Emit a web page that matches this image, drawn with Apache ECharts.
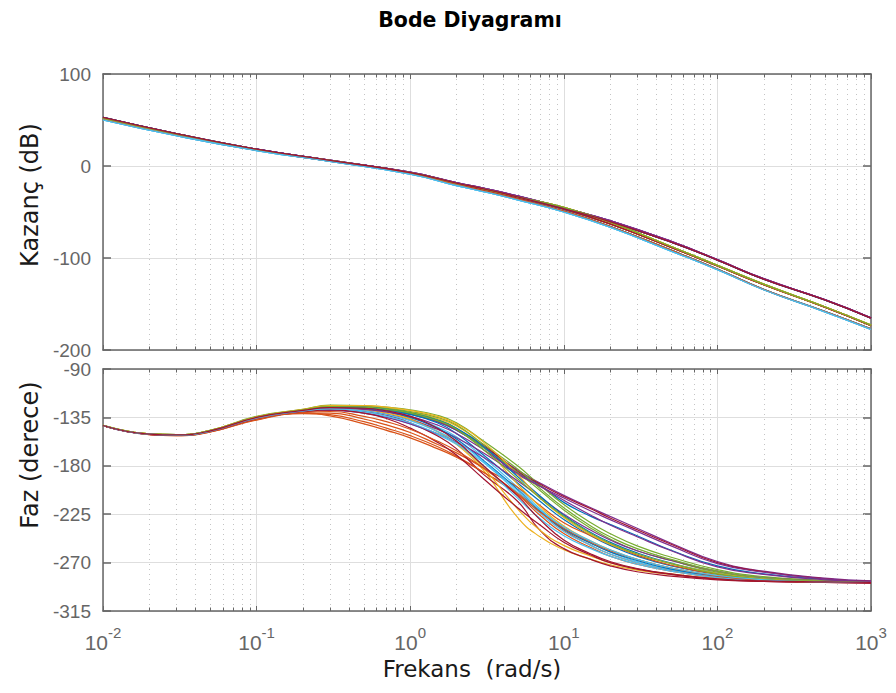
<!DOCTYPE html>
<html>
<head>
<meta charset="utf-8">
<script src="https://cdn.jsdelivr.net/npm/echarts@6/dist/echarts.min.js"></script>
<style>html,body{margin:0;padding:0;background:#fff;}#c{width:896px;height:693px;}</style>
</head>
<body>
<div id="c"></div>
<script>
// ---------- data ----------
const freqPhase = [0.01,0.02,0.03,0.05,0.1,0.2,0.3,0.5,0.7,1,1.5,2,3,5,7,10,15,20,30,50,100,200,500,1000];
const freqMag = [0.01,0.03,0.1,0.3,1,2,3,5,10,20,50,100,200,500,1000];
const minorFreqs = [0.02,0.03,0.04,0.05,0.06,0.07,0.08,0.09,0.2,0.3,0.4,0.5,0.6,0.7,0.8,0.9,2,3,4,5,6,7,8,9,20,30,40,50,60,70,80,90,200,300,400,500,600,700,800,900];
const magTicks = [-200,-100,0,100];
const phaseTicks = [-315,-270,-225,-180,-135,-90];
const colors = ['#0072BD','#D95319','#EDB120','#7E2F8E','#77AC30','#4DBEEE','#A2142F'];

// magnitude profiles (dB) at freqMag
const magTop  = [52.5,35.0,18.2,6.3,-6.8,-18.0,-24.0,-32.5,-45.5,-59.5,-82.0,-101.8,-122.5,-145.3,-165.0];
const magTop2 = [52.8,35.2,18.3,6.2,-7.2,-18.5,-24.8,-33.5,-46.5,-60.5,-82.8,-102.2,-122.9,-145.6,-165.4];
const magMid  = [52.0,34.6,17.8,6.0,-7.2,-18.8,-25.0,-33.5,-45.0,-61.0,-87.5,-108.0,-128.5,-153.0,-173.0];
const magMid2 = [52.3,34.8,17.9,6.0,-7.6,-19.5,-26.0,-34.5,-47.0,-63.0,-88.5,-108.6,-129.0,-153.5,-173.5];
const magBot  = [50.2,33.0,16.8,5.0,-8.8,-21.2,-27.8,-36.8,-50.0,-66.5,-92.5,-112.7,-134.5,-158.5,-177.5];
const magBot2 = [50.8,33.5,17.2,5.3,-8.3,-20.5,-27.0,-36.0,-49.0,-65.5,-91.5,-112.0,-134.0,-158.0,-177.0];

// phase curves (deg) at freqPhase
const ph00 = [-142.5,-150.5,-151.3,-147.5,-135.5,-129.0,-126.5,-127.0,-129.0,-132.5,-139.0,-147.0,-163.0,-186.0,-198.0,-214.0,-227.0,-234.5,-245.0,-258.5,-273.0,-280.5,-285.5,-287.5];
const ph01 = [-142.8,-151.0,-152.0,-148.5,-137.5,-131.5,-133.5,-141.0,-147.0,-154.0,-164.0,-172.0,-186.0,-205.0,-222.0,-240.0,-254.0,-262.0,-270.0,-277.0,-283.0,-286.5,-288.0,-288.5];
const ph02 = [-142.5,-150.5,-151.3,-147.5,-135.0,-128.5,-126.0,-127.0,-130.0,-136.0,-148.0,-160.0,-184.0,-228.0,-246.0,-258.0,-267.0,-272.0,-277.0,-281.0,-285.0,-287.0,-288.0,-288.5];
const ph03 = [-142.5,-150.5,-151.2,-147.3,-135.0,-128.0,-125.5,-126.0,-128.0,-131.5,-139.0,-147.0,-162.0,-184.0,-196.0,-207.5,-219.0,-227.0,-238.0,-252.0,-269.0,-278.0,-284.5,-287.0];
const ph04 = [-142.4,-150.3,-151.0,-147.0,-134.0,-127.5,-123.5,-124.0,-125.5,-128.0,-133.0,-140.0,-157.0,-180.0,-198.0,-216.0,-233.0,-243.0,-254.5,-265.0,-276.5,-283.0,-286.5,-288.0];
const ph05 = [-142.5,-150.5,-151.3,-147.5,-135.5,-129.0,-126.0,-126.5,-129.0,-134.0,-144.0,-153.0,-172.0,-200.0,-220.0,-238.0,-252.0,-260.0,-269.0,-276.0,-282.0,-286.0,-287.5,-288.5];
const ph06 = [-142.5,-150.5,-151.2,-147.3,-135.0,-128.0,-125.0,-125.5,-127.5,-131.0,-138.0,-146.0,-161.0,-185.0,-197.0,-208.5,-220.0,-228.5,-239.5,-253.0,-270.0,-278.5,-285.0,-287.5];
const ph07 = [-142.5,-150.4,-151.1,-147.2,-135.0,-128.5,-125.5,-126.0,-128.0,-132.0,-140.0,-150.0,-170.0,-196.0,-213.0,-230.0,-245.0,-254.0,-264.0,-273.0,-281.0,-285.5,-287.5,-288.5];
const ph08 = [-142.7,-150.8,-151.7,-148.2,-136.5,-131.0,-131.0,-136.5,-142.0,-149.0,-160.0,-168.0,-182.0,-200.0,-217.0,-233.0,-245.0,-253.0,-263.0,-272.5,-281.0,-285.5,-287.5,-288.5];
const ph09 = [-142.4,-150.3,-151.0,-147.0,-134.5,-128.0,-124.5,-124.5,-126.5,-130.0,-136.0,-143.0,-162.0,-197.0,-218.0,-236.0,-250.0,-258.0,-267.0,-275.0,-282.0,-286.0,-288.0,-288.5];
const ph10 = [-142.6,-150.6,-151.4,-147.7,-135.5,-129.0,-127.0,-129.0,-132.0,-137.0,-146.0,-154.0,-168.0,-188.0,-199.0,-210.0,-222.0,-230.0,-241.0,-254.5,-271.0,-279.0,-285.0,-287.5];
const ph11 = [-142.4,-150.3,-151.0,-147.0,-134.5,-128.0,-124.5,-125.0,-127.0,-130.5,-137.0,-145.0,-163.0,-186.0,-203.0,-221.0,-238.0,-248.0,-259.0,-268.0,-279.0,-284.5,-287.0,-288.5];
const ph12 = [-142.6,-150.7,-151.5,-147.9,-136.0,-130.0,-128.0,-131.0,-135.0,-141.0,-151.0,-160.0,-177.0,-205.0,-224.0,-241.0,-254.0,-262.0,-270.0,-277.0,-283.0,-286.5,-288.0,-288.5];
const ph13 = [-142.5,-150.5,-151.3,-147.5,-135.0,-129.0,-127.0,-129.5,-133.0,-140.0,-152.0,-164.0,-188.0,-213.0,-240.0,-257.0,-267.0,-273.0,-278.5,-282.5,-286.0,-287.5,-288.5,-289.0];
const ph14 = [-142.5,-150.5,-151.2,-147.4,-135.0,-128.5,-126.0,-127.0,-130.0,-135.0,-145.0,-155.0,-175.0,-202.0,-222.0,-239.0,-252.0,-260.0,-268.0,-276.0,-282.5,-286.0,-288.0,-288.5];
const ph15 = [-142.8,-151.0,-152.0,-148.6,-137.0,-131.0,-132.5,-139.0,-145.0,-152.0,-162.0,-171.0,-186.0,-207.0,-226.0,-243.0,-256.0,-264.0,-271.5,-278.0,-284.0,-287.0,-288.0,-288.5];
const ph16 = [-142.5,-150.5,-151.3,-147.6,-135.5,-129.0,-126.5,-128.0,-131.0,-137.0,-148.0,-159.0,-182.0,-220.0,-240.0,-254.0,-264.0,-270.0,-276.0,-280.5,-285.0,-287.0,-288.0,-288.5];
const ph17 = [-142.6,-150.7,-151.5,-147.9,-136.0,-130.0,-128.5,-131.0,-135.0,-141.0,-150.0,-158.0,-172.0,-194.0,-209.0,-225.0,-240.0,-249.0,-259.0,-268.0,-278.0,-284.0,-287.0,-288.5];
const ph18 = [-142.4,-150.3,-151.0,-147.0,-134.5,-128.0,-124.0,-124.5,-126.5,-129.5,-135.0,-142.0,-160.0,-183.0,-201.0,-219.0,-236.0,-246.0,-257.0,-267.0,-278.0,-284.0,-287.0,-288.5];
const ph19 = [-142.5,-150.5,-151.4,-147.7,-135.5,-129.5,-127.5,-130.0,-134.0,-140.0,-150.0,-159.0,-180.0,-210.0,-229.0,-245.0,-257.0,-264.0,-271.5,-278.0,-284.0,-287.0,-288.0,-288.5];
const ph20 = [-142.6,-150.7,-151.6,-148.0,-136.0,-130.0,-128.0,-131.0,-136.0,-145.0,-158.0,-170.0,-192.0,-219.0,-235.0,-251.0,-263.0,-270.0,-276.0,-281.0,-285.5,-287.5,-288.5,-289.0];
const ph21 = [-142.5,-150.5,-151.3,-147.5,-135.0,-128.5,-125.5,-125.5,-127.5,-131.0,-137.5,-145.0,-162.0,-190.0,-208.0,-226.0,-242.0,-251.0,-261.0,-270.5,-280.0,-285.0,-287.5,-288.5];
const ph22 = [-142.6,-150.7,-151.6,-148.0,-136.0,-130.5,-129.5,-134.0,-139.0,-146.0,-157.0,-166.0,-182.0,-206.0,-223.0,-238.0,-251.0,-259.0,-267.0,-275.0,-282.5,-286.5,-288.0,-288.5];
const ph23 = [-142.4,-150.3,-151.0,-147.0,-134.5,-127.5,-124.0,-124.0,-125.5,-128.5,-134.0,-141.0,-158.0,-188.0,-210.0,-228.0,-244.0,-253.0,-262.0,-271.0,-280.0,-285.0,-287.5,-288.5];
const ph24 = [-142.5,-150.5,-151.3,-147.6,-135.5,-129.0,-126.5,-127.5,-130.0,-134.0,-142.0,-150.0,-165.0,-187.0,-199.0,-212.0,-226.0,-235.0,-246.0,-259.0,-274.0,-281.0,-286.0,-288.0];
const ph25 = [-142.5,-150.5,-151.2,-147.3,-135.0,-128.0,-125.0,-125.5,-127.5,-131.0,-138.0,-146.0,-165.0,-192.0,-210.0,-227.0,-243.0,-252.0,-262.0,-271.0,-280.5,-285.5,-287.5,-288.5];
const ph26 = [-142.5,-150.6,-151.4,-147.8,-135.5,-129.0,-127.0,-129.0,-132.5,-138.0,-148.0,-157.0,-176.0,-203.0,-221.0,-237.0,-250.0,-258.0,-267.0,-275.0,-282.0,-286.0,-288.0,-288.5];
const ph27 = [-142.5,-150.5,-151.3,-147.5,-135.0,-128.5,-126.0,-126.5,-129.0,-134.0,-145.0,-157.0,-180.0,-208.0,-230.0,-249.0,-262.0,-269.0,-275.5,-280.5,-285.0,-287.0,-288.0,-288.5];

const phaseCurves = [ph00,ph01,ph02,ph03,ph04,ph05,ph06,ph07,ph08,ph09,ph10,ph11,ph12,ph13,ph14,ph15,ph16,ph17,ph18,ph19,ph20,ph21,ph22,ph23,ph24,ph25,ph26,ph27];
const magCurves = [magTop2,magMid2,magMid,magTop,magMid,magBot,magTop2,magBot2,magMid2,magMid,magTop,magMid2,magBot,magTop2,magBot2,magMid2,magMid,magTop,magMid,magBot,magMid2,magTop2,magBot2,magMid,magTop,magMid,magBot,magTop2];

// ---------- chart ----------
const FONT = 'Liberation Sans';
const TFONT = 'DejaVu Sans';
const AX = '#666666';
const chart = echarts.init(document.getElementById('c'), null, {renderer: 'svg'});

function xAxisDef(grid, pos, labels) {
  return {
    type: 'log', logBase: 10, min: 0.01, max: 1000, gridIndex: grid, position: pos,
    splitNumber: 5,
    axisLine: {show: true, onZero: false, lineStyle: {color: AX, width: 1.5}},
    axisTick: {show: true, inside: true, length: 5, lineStyle: {color: AX, width: 1}},
    splitLine: {show: pos === 'bottom', lineStyle: {color: '#dedede', width: 1}},
    minorTick: {show: false}, minorSplitLine: {show: false},
    axisLabel: labels ? {
      show: true, margin: 14, fontFamily: FONT, color: AX,
      formatter: v => '{b|10}{s|' + Math.round(Math.log10(v)) + '}',
      rich: {
        b: {fontSize: 21, fontFamily: FONT, color: AX, verticalAlign: 'bottom', lineHeight: 28},
        s: {fontSize: 15, fontFamily: FONT, color: AX, verticalAlign: 'top', lineHeight: 28}
      }
    } : {show: false}
  };
}
function yAxisDef(grid, pos, lo, hi, step, labels) {
  return {
    type: 'value', gridIndex: grid, position: pos, min: lo, max: hi, interval: step,
    axisLine: {show: true, onZero: false, lineStyle: {color: AX, width: 1.5}},
    axisTick: {show: true, inside: true, length: 8, lineStyle: {color: AX, width: 1.5}},
    splitLine: {show: pos === 'left', lineStyle: {color: '#dedede', width: 1}},
    axisLabel: labels ? {show: true, margin: 12, fontFamily: FONT, fontSize: 19, color: AX} : {show: false}
  };
}

function minorSeries(xi, yi, yv) {
  return {
    type: 'custom', xAxisIndex: xi, yAxisIndex: yi, silent: true, z: 1,
    data: minorFreqs.map(f => [f, yv]),
    encode: {x: 0, y: 1},
    renderItem: function (params, api) {
      const p = api.coord([api.value(0), api.value(1)]);
      const cs = params.coordSys;
      const x = Math.round(p[0]) + 0.5;
      return {type: 'group', children: [
        {type: 'line', shape: {x1: x, y1: cs.y, x2: x, y2: cs.y + cs.height},
         style: {stroke: '#c4c4c4', lineWidth: 1, lineDash: [1, 4]}},
        {type: 'line', shape: {x1: x, y1: cs.y, x2: x, y2: cs.y + 3.5},
         style: {stroke: AX, lineWidth: 1}},
        {type: 'line', shape: {x1: x, y1: cs.y + cs.height, x2: x, y2: cs.y + cs.height - 3.5},
         style: {stroke: AX, lineWidth: 1}}
      ]};
    }
  };
}

const series = [minorSeries(0, 0, 0), minorSeries(2, 2, -180)];
magCurves.forEach((m, i) => {
  series.push({
    type: 'line', xAxisIndex: 0, yAxisIndex: 0, showSymbol: false, smooth: 0.5,
    data: freqMag.map((f, k) => [f, m[k]]),
    lineStyle: {color: colors[i % 7], width: 1.3}, itemStyle: {color: colors[i % 7]}, z: 3, silent: true
  });
});
phaseCurves.forEach((p, i) => {
  series.push({
    type: 'line', xAxisIndex: 2, yAxisIndex: 2, showSymbol: false, smooth: 0.5,
    data: freqPhase.map((f, k) => [f, p[k]]),
    lineStyle: {color: colors[i % 7], width: 1.2}, itemStyle: {color: colors[i % 7]}, z: 3, silent: true
  });
});

chart.setOption({
  animation: false,
  backgroundColor: '#ffffff',
  grid: [
    {left: 103, right: 25, top: 74, height: 276},
    {left: 103, right: 25, top: 369, height: 242}
  ],
  xAxis: [
    xAxisDef(0, 'bottom', false), xAxisDef(0, 'top', false),
    xAxisDef(1, 'bottom', true), xAxisDef(1, 'top', false)
  ],
  yAxis: [
    yAxisDef(0, 'left', magTicks[0], magTicks[magTicks.length - 1], 100, true),
    yAxisDef(0, 'right', magTicks[0], magTicks[magTicks.length - 1], 100, false),
    yAxisDef(1, 'left', phaseTicks[0], phaseTicks[phaseTicks.length - 1], 45, true),
    yAxisDef(1, 'right', phaseTicks[0], phaseTicks[phaseTicks.length - 1], 45, false)
  ],
  graphic: [
    {type: 'text', x: 470, y: 20, style: {text: 'Bode Diyagramı', fontFamily: TFONT, fontWeight: 'bold', fontSize: 20.5, fill: '#000', textAlign: 'center', textVerticalAlign: 'middle'}},
    {type: 'text', x: 30, y: 195, rotation: Math.PI / 2, style: {text: 'Kazanç (dB)', fontFamily: TFONT, fontSize: 24, fill: '#1a1a1a', textAlign: 'center', textVerticalAlign: 'middle'}},
    {type: 'text', x: 30, y: 455, rotation: Math.PI / 2, style: {text: 'Faz (derece)', fontFamily: TFONT, fontSize: 24, fill: '#1a1a1a', textAlign: 'center', textVerticalAlign: 'middle'}},
    {type: 'text', x: 472, y: 669, style: {text: 'Frekans  (rad/s)', fontFamily: TFONT, fontSize: 23, fill: '#1a1a1a', textAlign: 'center', textVerticalAlign: 'middle'}}
  ],
  series: series
});
</script>
</body>
</html>
